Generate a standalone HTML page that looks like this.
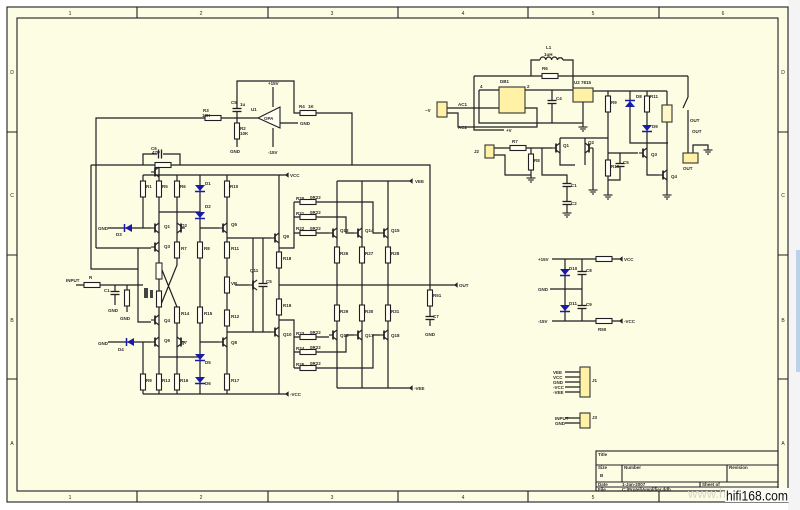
<!DOCTYPE html>
<html><head><meta charset="utf-8"><style>
html,body{margin:0;padding:0;background:#fff;}
svg{display:block;}
.w{fill:none;stroke:#1e1e24;stroke-width:1.2;}
.b{fill:none;stroke:#1e1e24;stroke-width:1.1;}
.t{font-family:"Liberation Sans",sans-serif;font-size:4.5px;font-weight:bold;fill:#2a2a2a;}
.f{font-family:"Liberation Sans",sans-serif;font-size:5px;fill:#222;}
.r{fill:#fffff2;stroke:#1e1e24;stroke-width:1.1;}
</style></head><body>
<svg width="800" height="510" viewBox="0 0 800 510" xmlns="http://www.w3.org/2000/svg">
<defs>
<g id="rv"><rect x="-2.5" y="-8" width="5" height="16" class="r"/></g>
<g id="rh"><rect x="-8" y="-2.5" width="16" height="5" class="r"/></g>
<g id="dd"><polygon points="-5,-3 5,-3 0,3" fill="#1a1aa8"/><line x1="-5" y1="3.5" x2="5" y2="3.5" stroke="#1a1aa8" stroke-width="1.5"/></g>
<g id="du"><polygon points="-5,3 5,3 0,-3" fill="#1a1aa8"/><line x1="-5" y1="-3.5" x2="5" y2="-3.5" stroke="#1a1aa8" stroke-width="1.5"/></g>
<g id="dl"><polygon points="4,-4 4,4 -3,0" fill="#1a1aa8"/><line x1="-3.5" y1="-4" x2="-3.5" y2="4" stroke="#1a1aa8" stroke-width="1.5"/></g>
<g id="q"><g stroke="#1e1e24" stroke-width="1.1" fill="none"><line x1="-8" y1="0" x2="-4" y2="0"/><line x1="-4" y1="-4.5" x2="-4" y2="4.5" stroke-width="1.7"/><line x1="-4" y1="-2" x2="0" y2="-5"/><line x1="-4" y1="2" x2="0" y2="5"/></g></g>
<g id="qr"><g stroke="#1e1e24" stroke-width="1.1" fill="none"><line x1="8" y1="0" x2="4" y2="0"/><line x1="4" y1="-4.5" x2="4" y2="4.5" stroke-width="1.7"/><line x1="4" y1="-2" x2="0" y2="-5"/><line x1="4" y1="2" x2="0" y2="5"/></g></g>
<g id="ch"><rect x="-4" y="-1.5" width="8" height="3" fill="#fdfde3"/><line x1="-4.5" y1="-1.5" x2="4.5" y2="-1.5" stroke="#1e1e24" stroke-width="1.3"/><line x1="-4.5" y1="1.5" x2="4.5" y2="1.5" stroke="#1e1e24" stroke-width="1.3"/></g>
<g id="cv"><rect x="-1.5" y="-4" width="3" height="8" fill="#fdfde3"/><line x1="-1.5" y1="-4.5" x2="-1.5" y2="4.5" stroke="#1e1e24" stroke-width="1.3"/><line x1="1.5" y1="-4.5" x2="1.5" y2="4.5" stroke="#1e1e24" stroke-width="1.3"/></g>
<g id="gnd"><g stroke="#1e1e24" stroke-width="1.1"><line x1="-4.5" y1="0" x2="4.5" y2="0"/><line x1="-2.8" y1="2" x2="2.8" y2="2"/><line x1="-1" y1="4" x2="1" y2="4"/></g></g>
</defs>

<!-- sheet -->
<rect x="7" y="7" width="781" height="495" fill="#fdfde3"/>
<rect x="788" y="0" width="12" height="510" fill="#f4f4f4"/>
<rect x="796" y="250" width="4" height="122" fill="#bcd2ea"/>
<g class="b">
<rect x="7" y="7" width="781" height="495"/>
<rect x="17" y="18" width="761" height="473"/>
<path d="M137,7V18M268,7V18M398,7V18M528,7V18M659,7V18M137,491V502M268,491V502M398,491V502M528,491V502M659,491V502M7,132H17M7,255H17M7,379H17M778,132H788M778,255H788M778,379H788"/>
</g>
<g class="f" text-anchor="middle">
<text x="70" y="15">1</text><text x="201" y="15">2</text><text x="332" y="15">3</text><text x="463" y="15">4</text><text x="593" y="15">5</text><text x="723" y="15">6</text>
<text x="70" y="499">1</text><text x="201" y="499">2</text><text x="332" y="499">3</text><text x="463" y="499">4</text><text x="593" y="499">5</text>
<text x="12" y="74">D</text><text x="12" y="197">C</text><text x="12" y="322">B</text><text x="12" y="445">A</text>
<text x="783" y="74">D</text><text x="783" y="197">C</text><text x="783" y="322">B</text><text x="783" y="445">A</text>
</g>

<!-- wires -->
<path class="w" d="
M96,248V118H205M221,118H258
M237,118V81H294V113H300M316,113H352V165
M237,118V123M237,139V147
M273,87V107M273,128V147
M280,123H298
M91,165H430V285
M91,165V269H138
M96,248H151M138,248V322H151
M143,165V154H157M163,154H180V165
M159,165V175
M143,175H286
M143,394H286
M143,175V228M108,228H151
M159,175V394
M177,175V265L160,307M160,265L177,307V394
M200,175V394
M227,175V394
M159,212H200M200,228H219M159,357H200M200,342H219
M227,238H271M227,332H271
M253,238V332M263,238V332M235,285H249
M76,285H143M115,285V305M127,285V312
M108,342H151M143,342V394
M279,175V394
M279,248H294V202M294,202H300M294,217H300M294,233H300
M316,202H373V233H380M316,217H346V233H354M316,233H329
M279,285H455
M279,320H294V368M294,337H300M294,352H300M294,368H300
M316,337H329M316,352H346V335H354M316,368H373V335H380
M337,181V388M362,181V388M388,181V388
M337,181H410M337,388H410
M430,285V326
M474,76H688M531,76V60H540M563,60H573V76M573,76V88
M474,76V130H504
M479,90H499M479,90V123H583M583,102V127
M525,90H573M552,90V123
M447,108H499M447,113H458V127H537V108H525
M593,91H667
M608,91V195M608,153H638M620,153V180H608
M560,138H608M560,138V165H575M585,138V165M593,148V190
M494,148H510M526,148H552M531,148V154M531,170V178
M494,155H505V175H531
M542,148V175H567V213
M630,91V143H668
M647,91V175H659
M667,91V105M667,122V195
M688,76V97L683,108M688,110V153
M693,153V145H708V150
M552,259H620M565,259V321M582,259V321M550,289H582M552,321H620
M565,372H580M565,377H580M565,382H580M565,387H580M565,392H580
M565,418H580M565,423H580
M286,175l2,-1.5v3zM286,394l2,-1.5v3zM410,181l2,-1.5v3zM410,388l2,-1.5v3zM455,285l2,-1.5v3zM620,259l2,-1.5v3zM620,321l2,-1.5v3z
"/>
<path d="M540,60a2.9,3 0 0,1 5.8,0a2.9,3 0 0,1 5.8,0a2.9,3 0 0,1 5.8,0a2.9,3 0 0,1 5.6,0" fill="none" stroke="#1e1e24" stroke-width="1.2"/>

<!-- opamp -->
<polygon points="258,118 280,107 280,128" fill="#fffff2" stroke="#1e1e24" stroke-width="1.1"/>

<!-- resistors -->
<g>
<use href="#rh" x="213" y="118"/><use href="#rh" x="308" y="113"/><use href="#rv" x="237" y="131"/>
<use href="#rh" x="163" y="165"/>
<use href="#rv" x="143" y="189"/><use href="#rv" x="159" y="189"/><use href="#rv" x="177" y="189"/><use href="#rv" x="227" y="189"/>
<use href="#rv" x="177" y="250"/><use href="#rv" x="200" y="250"/><use href="#rv" x="227" y="250"/>
<use href="#rv" x="159" y="271"/><use href="#rv" x="159" y="299"/>
<use href="#rv" x="227" y="285"/>
<use href="#rv" x="177" y="315"/><use href="#rv" x="200" y="315"/><use href="#rv" x="227" y="318"/>
<use href="#rv" x="143" y="382"/><use href="#rv" x="159" y="382"/><use href="#rv" x="177" y="382"/><use href="#rv" x="227" y="382"/>
<use href="#rh" x="92" y="285"/><use href="#rv" x="127" y="298"/>
<use href="#rv" x="279" y="260"/><use href="#rv" x="279" y="307"/>
<use href="#rh" x="308" y="202"/><use href="#rh" x="308" y="217"/><use href="#rh" x="308" y="233"/>
<use href="#rh" x="308" y="337"/><use href="#rh" x="308" y="352"/><use href="#rh" x="308" y="368"/>
<use href="#rv" x="337" y="255"/><use href="#rv" x="362" y="255"/><use href="#rv" x="388" y="255"/>
<use href="#rv" x="337" y="313"/><use href="#rv" x="362" y="313"/><use href="#rv" x="388" y="313"/>
<use href="#rv" x="430" y="298"/>
<use href="#rh" x="550" y="76"/>
<use href="#rh" x="518" y="148"/><use href="#rv" x="531" y="162"/>
<use href="#rv" x="608" y="104"/><use href="#rv" x="608" y="168"/>
<use href="#rv" x="647" y="104"/>
<use href="#rh" x="604" y="259"/><use href="#rh" x="604" y="321"/>
</g>
<rect x="144" y="288" width="4" height="10" fill="#444"/><rect x="150" y="290" width="3" height="8" fill="#444"/>
<rect x="156" y="263" width="6" height="16" fill="#fffff2" stroke="#1e1e24"/>

<!-- caps -->
<use href="#ch" x="237" y="110"/><use href="#cv" x="160" y="154"/>
<use href="#ch" x="263" y="285"/><use href="#ch" x="115" y="293"/>
<use href="#ch" x="430" y="318"/>
<use href="#ch" x="552" y="102"/><use href="#ch" x="620" y="165"/>
<use href="#ch" x="567" y="185"/><use href="#ch" x="567" y="203"/>
<use href="#ch" x="582" y="273"/><use href="#ch" x="582" y="307"/>

<!-- diodes -->
<use href="#dd" x="200" y="188"/><use href="#dd" x="200" y="215"/>
<use href="#dd" x="200" y="357"/><use href="#dd" x="200" y="380"/>
<use href="#dl" x="128" y="228"/><use href="#dl" x="130" y="342"/>
<use href="#du" x="630" y="104"/><use href="#dd" x="647" y="128"/>
<use href="#dd" x="565" y="272"/><use href="#dd" x="565" y="308"/>

<!-- transistors -->
<use href="#q" x="159" y="228"/><use href="#q" x="159" y="247"/><use href="#qr" x="177" y="228"/>
<use href="#q" x="227" y="228"/>
<use href="#q" x="159" y="320"/><use href="#q" x="159" y="342"/><use href="#qr" x="177" y="342"/>
<use href="#q" x="227" y="342"/>
<use href="#q" x="257" y="285"/>
<use href="#q" x="279" y="238"/><use href="#q" x="279" y="332"/>
<use href="#q" x="337" y="233"/><use href="#q" x="362" y="233"/><use href="#q" x="388" y="233"/>
<use href="#q" x="337" y="335"/><use href="#q" x="362" y="335"/><use href="#q" x="388" y="335"/>
<use href="#q" x="560" y="148"/><use href="#qr" x="585" y="148"/>
<use href="#q" x="647" y="153"/><use href="#q" x="667" y="175"/>
<use href="#q" x="159" y="172"/>

<!-- grounds -->
<use href="#gnd" x="583" y="127"/><use href="#gnd" x="608" y="195"/><use href="#gnd" x="593" y="190"/>
<use href="#gnd" x="531" y="178"/><use href="#gnd" x="567" y="213"/><use href="#gnd" x="667" y="195"/>
<use href="#gnd" x="708" y="150"/>

<!-- ICs / connectors -->
<rect x="499" y="87" width="26" height="26" fill="#fff2a6" stroke="#333" stroke-width="1.1"/>
<rect x="573" y="88" width="20" height="14" fill="#fff2a6" stroke="#333" stroke-width="1.1"/>
<rect x="437" y="102" width="10" height="15" fill="#fff2a6" stroke="#333" stroke-width="1.1"/>
<rect x="485" y="145" width="9" height="13" fill="#fff2a6" stroke="#333" stroke-width="1.1"/>
<rect x="662" y="105" width="10" height="17" fill="#fff7c8" stroke="#333" stroke-width="1.1"/>
<rect x="683" y="153" width="15" height="10" fill="#fff2a6" stroke="#333" stroke-width="1.1"/>
<rect x="580" y="367" width="10" height="30" fill="#fff2a6" stroke="#333" stroke-width="1.1"/>
<rect x="580" y="413" width="10" height="15" fill="#fff2a6" stroke="#333" stroke-width="1.1"/>

<!-- labels -->
<g class="t">
<text x="203" y="112">R3</text><text x="202" y="117">10K</text>
<text x="231" y="104">C5</text><text x="240" y="106">1u</text>
<text x="240" y="130">R2</text><text x="240" y="135">10K</text><text x="230" y="153">GND</text>
<text x="251" y="111">U1</text><text x="264" y="120">OPA</text>
<text x="268" y="85">+15V</text><text x="268" y="154">-15V</text><text x="300" y="125">GND</text>
<text x="299" y="108">R4</text><text x="308" y="108">1K</text>
<text x="151" y="150">C6</text><text x="152" y="154">47P</text>
<text x="146" y="188">R1</text><text x="162" y="188">R5</text><text x="180" y="188">R6</text><text x="205" y="185">D1</text><text x="205" y="208">D2</text><text x="230" y="188">R10</text>
<text x="98" y="230">GND</text><text x="116" y="236">D3</text><text x="164" y="228">Q1</text><text x="181" y="227">Q2</text><text x="231" y="226">Q5</text>
<text x="164" y="248">Q3</text><text x="181" y="250">R7</text><text x="204" y="250">R8</text><text x="231" y="250">R11</text>
<text x="250" y="272">Q11</text><text x="266" y="283">C5</text><text x="231" y="285">VR</text>
<text x="66" y="282">INPUT</text><text x="89" y="279">R</text><text x="104" y="292">C1</text><text x="108" y="312">GND</text><text x="120" y="320">GND</text>
<text x="164" y="322">Q4</text><text x="181" y="315">R14</text><text x="204" y="315">R15</text><text x="231" y="318">R12</text>
<text x="98" y="345">GND</text><text x="118" y="351">D4</text><text x="164" y="342">Q6</text><text x="181" y="344">Q7</text><text x="231" y="344">Q8</text>
<text x="205" y="364">D5</text><text x="205" y="385">D6</text>
<text x="146" y="382">R9</text><text x="162" y="382">R13</text><text x="180" y="382">R16</text><text x="231" y="382">R17</text>
<text x="290" y="177">VCC</text><text x="290" y="396">-VCC</text>
<text x="283" y="238">Q9</text><text x="283" y="260">R18</text><text x="283" y="307">R19</text><text x="283" y="336">Q10</text>
<text x="296" y="200">R20</text><text x="310" y="199">0R22</text><text x="296" y="215">R21</text><text x="310" y="214">0R22</text><text x="296" y="230">R22</text><text x="310" y="230">0R22</text>
<text x="296" y="335">R23</text><text x="310" y="334">0R22</text><text x="296" y="350">R24</text><text x="310" y="349">0R22</text><text x="296" y="366">R25</text><text x="310" y="365">0R22</text>
<text x="340" y="232">Q13</text><text x="365" y="232">Q14</text><text x="391" y="232">Q15</text>
<text x="340" y="255">R26</text><text x="365" y="255">R27</text><text x="391" y="255">R28</text>
<text x="340" y="313">R29</text><text x="365" y="313">R30</text><text x="391" y="313">R31</text>
<text x="340" y="337">Q16</text><text x="365" y="337">Q17</text><text x="391" y="337">Q18</text>
<text x="415" y="183">VEE</text><text x="414" y="390">-VEE</text><text x="459" y="287">OUT</text>
<text x="433" y="297">R51</text><text x="433" y="318">C7</text><text x="425" y="336">GND</text>
<text x="546" y="49">L1</text><text x="544" y="56">1uH</text><text x="542" y="70">R6</text>
<text x="500" y="83">DB1</text><text x="574" y="84">U2 7815</text>
<text x="480" y="88">4</text><text x="527" y="88">2</text><text x="556" y="100">C4</text>
<text x="458" y="106">AC1</text><text x="458" y="129">AC2</text><text x="425" y="112">~V</text>
<text x="506" y="132">+V</text><text x="474" y="153">J2</text><text x="512" y="143">R7</text><text x="534" y="162">R8</text>
<text x="563" y="147">Q1</text><text x="588" y="144">Q2</text><text x="571" y="187">C1</text><text x="571" y="205">C2</text>
<text x="611" y="104">R9</text><text x="611" y="168">R10</text><text x="623" y="164">C5</text>
<text x="636" y="98">D8</text><text x="650" y="98">R11</text><text x="652" y="128">D9</text><text x="651" y="156">Q3</text><text x="671" y="178">Q4</text>
<text x="690" y="122">OUT</text><text x="692" y="133">OUT</text><text x="683" y="170">OUT</text>
<text x="538" y="261">+15V</text><text x="624" y="261">VCC</text><text x="538" y="291">GND</text><text x="538" y="323">-15V</text><text x="624" y="323">-VCC</text>
<text x="569" y="270">D10</text><text x="586" y="272">C8</text><text x="569" y="305">D11</text><text x="586" y="306">C9</text><text x="598" y="331">R50</text>
<text x="553" y="374">VEE</text><text x="553" y="379">VCC</text><text x="553" y="384">GND</text><text x="553" y="389">-VCC</text><text x="553" y="394">-VEE</text>
<text x="592" y="382">J1</text><text x="555" y="420">INPUT</text><text x="555" y="425">GND</text><text x="592" y="419">J3</text>
</g>

<!-- title block -->
<g class="b">
<rect x="596" y="451" width="182" height="40"/>
<path d="M596,465H778M622,465V482M727,465V482M596,482H778M596,487H778M700,482V487"/>
</g>
<g class="t">
<text x="598" y="456">Title</text><text x="598" y="469">Size</text><text x="600" y="477">B</text>
<text x="624" y="469">Number</text><text x="729" y="469">Revision</text>
<text x="598" y="486">Date</text><text x="622" y="486">1-Jan-2007</text><text x="702" y="486">Sheet of</text>
<text x="598" y="491">File</text><text x="622" y="491">C:\Protel\Amplifier.ddb</text>
</g>
<text x="688" y="498" font-family="Liberation Sans,sans-serif" font-size="13" fill="#d6d6ce">www.hifidiy.net</text>
<rect x="725" y="488" width="64" height="14" fill="#fcfcf6"/>
<text x="726" y="500.5" font-family="Liberation Sans,sans-serif" font-size="14" fill="#111" textLength="62" lengthAdjust="spacingAndGlyphs">hifi168.com</text>
</svg>
</body></html>
